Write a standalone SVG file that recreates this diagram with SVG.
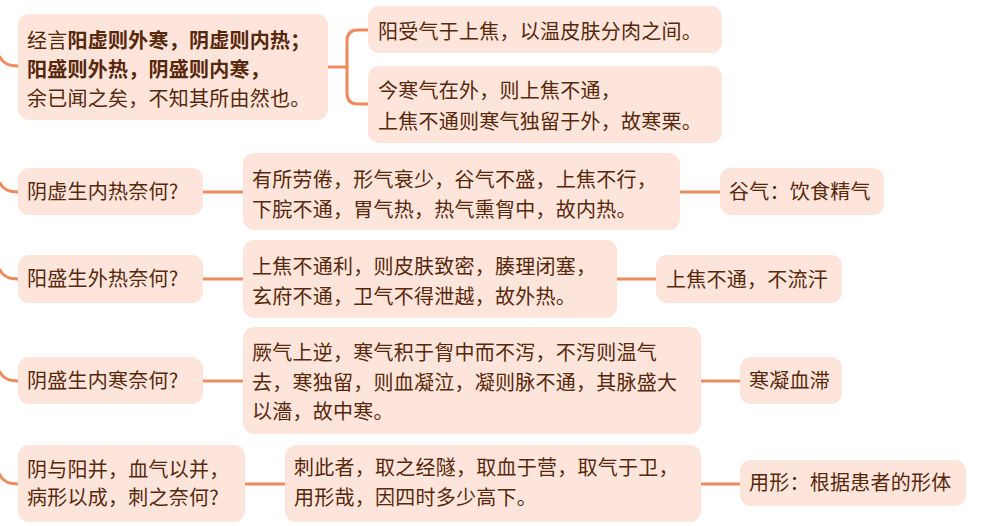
<svg xmlns="http://www.w3.org/2000/svg" width="988" height="526" viewBox="0 0 988 526">
<style>
.n{fill:#fde5dc;}
.t{font-family:"Noto Sans CJK SC","Noto Sans",sans-serif;font-size:20px;letter-spacing:0.25px;fill:#58280a;}
.b{font-weight:bold;}
.c{fill:none;stroke:#ef8a5e;stroke-width:3;stroke-linecap:round;}
</style>
<rect width="988" height="526" fill="#ffffff"/>
<g id="connectors">
<path class="c" d="M0,57 Q4,66 18,66"/>
<path class="c" d="M0,183 Q4,192 18,192"/>
<path class="c" d="M0,270 Q4,279 18,279"/>
<path class="c" d="M0,372 Q4,381 18,381"/>
<path class="c" d="M0,475 Q4,484 18,484"/>
<path class="c" d="M328,67 H347"/>
<path class="c" d="M368,30 H358 Q347,30 347,41 V93 Q347,104 358,104 H368"/>
<path class="c" d="M203,192 H243"/>
<path class="c" d="M680,192 H720"/>
<path class="c" d="M203,279 H243"/>
<path class="c" d="M617,279 H656"/>
<path class="c" d="M203,381 H243"/>
<path class="c" d="M701,381 H740"/>
<path class="c" d="M245,484 H285"/>
<path class="c" d="M701,484 H740"/>
</g>
<g id="n1">
<rect class="n" x="18" y="14" width="310" height="106" rx="11"/>
<text class="t" x="27" y="48">经言<tspan class="b">阳虚则外寒，阴虚则内热；</tspan></text>
<text class="t b" x="27" y="77">阳盛则外热，阴盛则内寒，</text>
<text class="t" x="27" y="106">余已闻之矣，不知其所由然也。</text>
</g>
<g id="n1a">
<rect class="n" x="368" y="6" width="354" height="47" rx="11"/>
<text class="t" x="378" y="39">阳受气于上焦，以温皮肤分肉之间。</text>
</g>
<g id="n1b">
<rect class="n" x="368" y="66" width="354" height="77" rx="11"/>
<text class="t" x="378" y="98">今寒气在外，则上焦不通，</text>
<text class="t" x="378" y="129">上焦不通则寒气独留于外，故寒栗。</text>
</g>
<g id="n2">
<rect class="n" x="18" y="168" width="185" height="47" rx="11"/>
<text class="t" x="27" y="199">阴虚生内热奈何?</text>
</g>
<g id="n2a">
<rect class="n" x="243" y="153" width="437" height="77" rx="11"/>
<text class="t" x="252" y="187">有所劳倦，形气衰少，谷气不盛，上焦不行，</text>
<text class="t" x="252" y="217">下脘不通，胃气热，热气熏胷中，故内热。</text>
</g>
<g id="n2b">
<rect class="n" x="720" y="168" width="164" height="47" rx="11"/>
<text class="t" x="729" y="199">谷气：饮食精气</text>
</g>
<g id="n3">
<rect class="n" x="18" y="255" width="185" height="48" rx="11"/>
<text class="t" x="27" y="286">阳盛生外热奈何?</text>
</g>
<g id="n3a">
<rect class="n" x="243" y="240" width="374" height="78" rx="11"/>
<text class="t" x="252" y="274">上焦不通利，则皮肤致密，腠理闭塞，</text>
<text class="t" x="252" y="304">玄府不通，卫气不得泄越，故外热。</text>
</g>
<g id="n3b">
<rect class="n" x="656" y="255" width="186" height="48" rx="11"/>
<text class="t" x="666" y="287">上焦不通，不流汗</text>
</g>
<g id="n4">
<rect class="n" x="18" y="357" width="185" height="47" rx="11"/>
<text class="t" x="27" y="388">阴盛生内寒奈何?</text>
</g>
<g id="n4a">
<rect class="n" x="243" y="327" width="458" height="107" rx="11"/>
<text class="t" x="252" y="360">厥气上逆，寒气积于胷中而不泻，不泻则温气</text>
<text class="t" x="252" y="390">去，寒独留，则血凝泣，凝则脉不通，其脉盛大</text>
<text class="t" x="252" y="419">以濇，故中寒。</text>
</g>
<g id="n4b">
<rect class="n" x="740" y="357" width="102" height="47" rx="11"/>
<text class="t" x="749" y="388">寒凝血滞</text>
</g>
<g id="n5">
<rect class="n" x="18" y="445" width="227" height="77" rx="11"/>
<text class="t" x="27" y="477">阴与阳并，血气以并，</text>
<text class="t" x="27" y="505">病形以成，刺之奈何?</text>
</g>
<g id="n5a">
<rect class="n" x="285" y="445" width="416" height="77" rx="11"/>
<text class="t" x="294" y="475">刺此者，取之经隧，取血于营，取气于卫，</text>
<text class="t" x="294" y="505">用形哉，因四时多少高下。</text>
</g>
<g id="n5b">
<rect class="n" x="740" y="460" width="226" height="46" rx="11"/>
<text class="t" x="749" y="490">用形：根据患者的形体</text>
</g>
</svg>
